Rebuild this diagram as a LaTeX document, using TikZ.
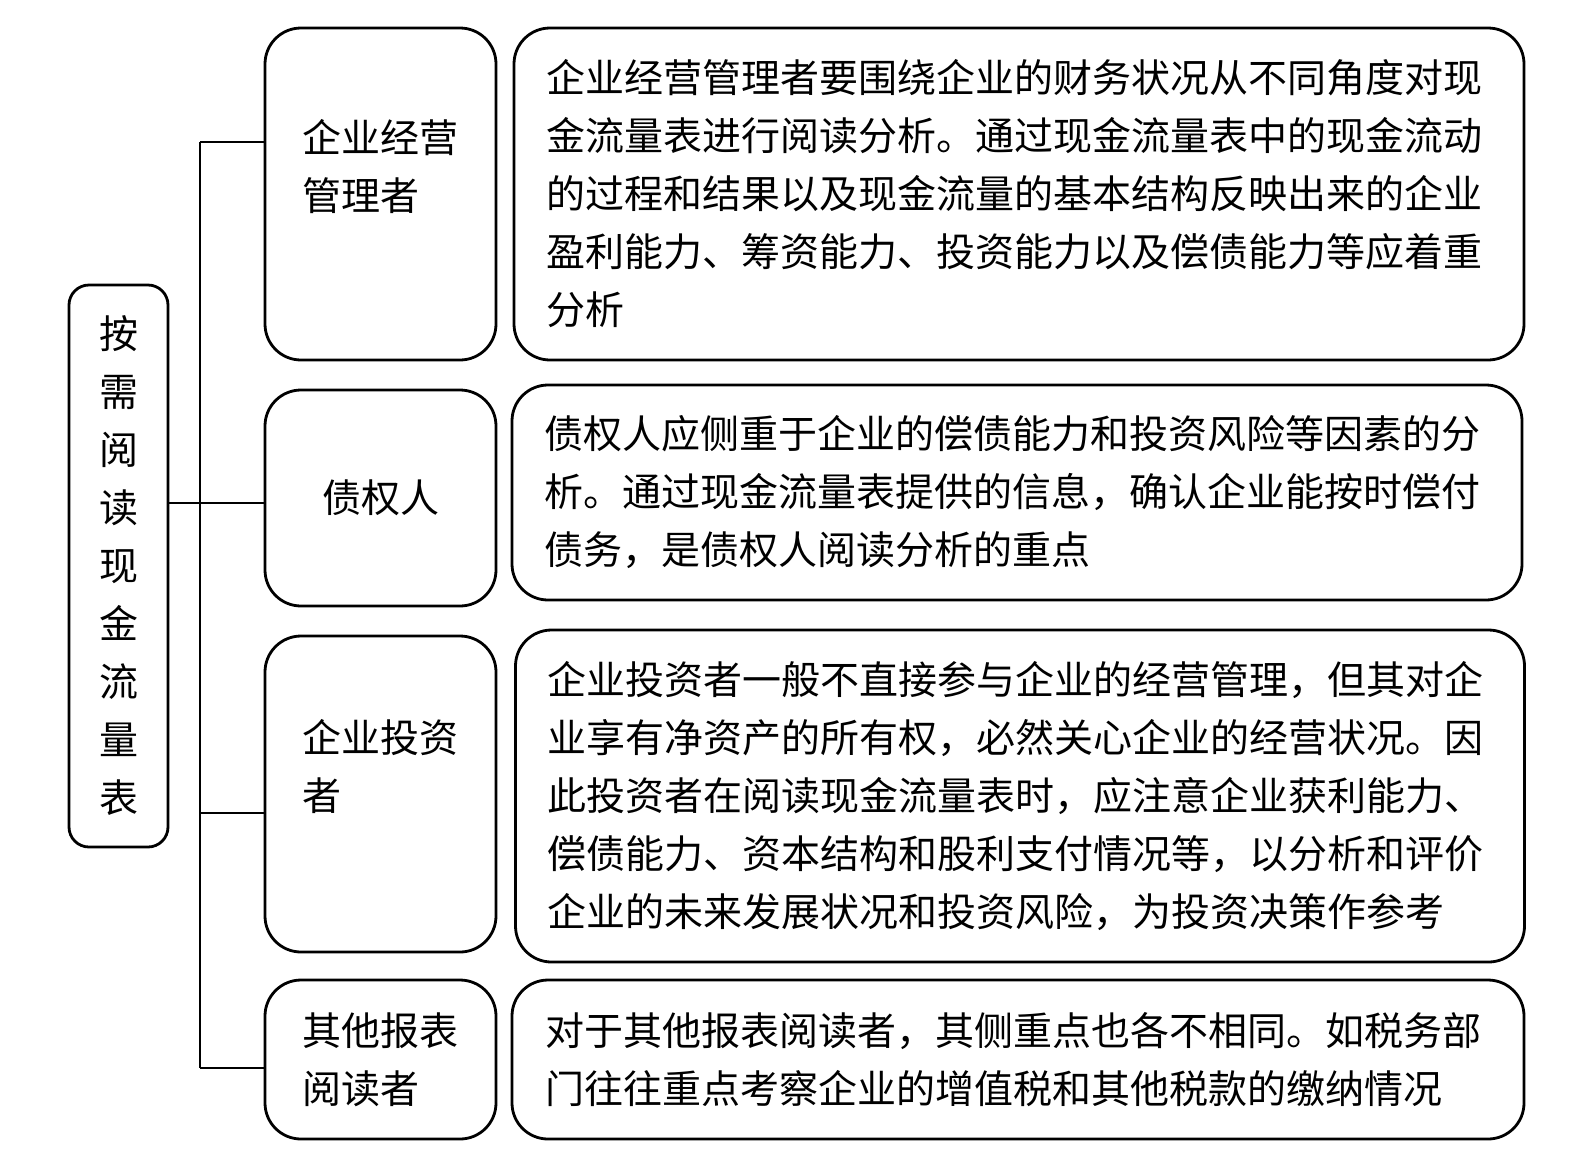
\documentclass[tikz,border=0pt]{standalone}
\usepackage{fontspec}
\setmainfont{Noto Sans CJK SC}
\begin{document}
\begin{tikzpicture}[x=1pt,y=-1pt,
  box/.style={draw,rounded corners=36pt,inner sep=0pt,font=\fontsize{39}{58}\selectfont},
  midbox/.style={box,minimum width=231pt,align=left},
  textbox/.style={box,text width=946pt,align=left}]
\pgfsetlinewidth{2.8pt}
\useasboundingbox (0,0) rectangle (1588,1171);
%
% titulo vertical
\node[box,rounded corners=20pt,minimum width=99pt,minimum height=562pt,align=center]
  (root) at (118.5,566) {按\\需\\阅\\读\\现\\金\\流\\量\\表};
%
% lectores
\node[midbox,minimum height=332pt] (m1) at (380.5,194) {企业经营\\管理者\\~};
\node[midbox,minimum height=216pt] (m2) at (380.5,498) {债权人};
\node[midbox,minimum height=316pt] (m3) at (380.5,794) {企业投资\\者\\~};
\node[midbox,minimum height=159pt] (m4) at (380.5,1059.5) {其他报表\\阅读者};
%
% descripciones
\node[textbox,minimum width=1010pt,minimum height=332pt] (r1) at (1019,194)
  {企业经营管理者要围绕企业的财务状况从不同角度对现\\
   金流量表进行阅读分析。通过现金流量表中的现金流动\\
   的过程和结果以及现金流量的基本结构反映出来的企业\\
   盈利能力、筹资能力、投资能力以及偿债能力等应着重\\
   分析};
\node[textbox,minimum width=1010pt,minimum height=215pt] (r2) at (1017,492.5)
  {债权人应侧重于企业的偿债能力和投资风险等因素的分\\
   析。通过现金流量表提供的信息，确认企业能按时偿付\\
   债务，是债权人阅读分析的重点};
\node[textbox,minimum width=1009pt,minimum height=332pt] (r3) at (1020,796)
  {企业投资者一般不直接参与企业的经营管理，但其对企\\
   业享有净资产的所有权，必然关心企业的经营状况。因\\
   此投资者在阅读现金流量表时，应注意企业获利能力、\\
   偿债能力、资本结构和股利支付情况等，以分析和评价\\
   企业的未来发展状况和投资风险，为投资决策作参考};
\node[textbox,minimum width=1012pt,minimum height=159pt] (r4) at (1018,1059.5)
  {对于其他报表阅读者，其侧重点也各不相同。如税务部\\
   门往往重点考察企业的增值税和其他税款的缴纳情况};
%
% llave
\coordinate (j0) at (200,503);
\foreach \i/\y in {1/142,2/503,3/813,4/1068}
\coordinate (j\i) at (200,\y);
\draw (j1) -- (j4);
\draw (root.east |- j0) -- (j0);
\foreach \i in {1,...,4}
\draw (j\i) -- (j\i -| m\i.west);
\end{tikzpicture}
\end{document}
